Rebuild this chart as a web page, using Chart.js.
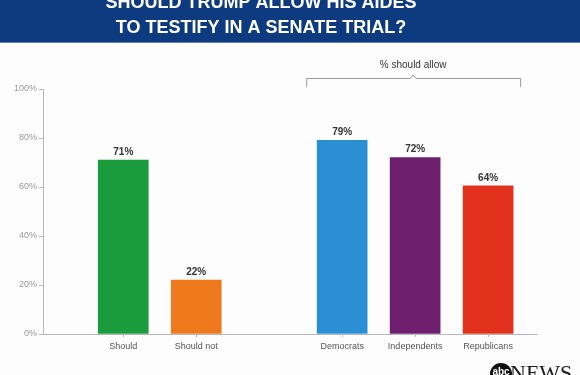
<!DOCTYPE html>
<html>
<head>
<meta charset="utf-8">
<script src="https://cdn.jsdelivr.net/npm/chart.js@4"></script>
<style>
  html, body { margin: 0; padding: 0; background: #fdfdfd; }
  #wrap { width: 580px; height: 375px; position: relative; }
</style>
</head>
<body>
<div id="wrap"><canvas id="chartAides"></canvas></div>
<script>
(function() {
  'use strict';

  // Datos
  const categories = ['Should', 'Should not', 'Democrats', 'Independents', 'Republicans'];
  const slots = [0, 1, 3, 4, 5]; // hueco entre los dos grupos
  const values = [71, 22, 79, 72, 60.5]; // altura de barra
  const valueLabels = ['71%', '22%', '79%', '72%', '64%'];
  const colors = ['#1a9b3c', '#ef7a1e', '#2b8fd6', '#6e1f6e', '#e2321e'];
  const yTicks = [0, 20, 40, 60, 80, 100];
  const titleLines = ['SHOULD TRUMP ALLOW HIS AIDES', 'TO TESTIFY IN A SENATE TRIAL?'];
  const bracketLabel = '% should allow';

  const axisColor = '#b8b8b8';

  // Cabecera, corchete, etiquetas y logo
  const decor = {
    id: 'decor',
    beforeDraw(chart) {
      const ctx = chart.ctx;
      ctx.save();
      ctx.fillStyle = '#fdfdfd';
      ctx.fillRect(0, 0, chart.width, chart.height);
      ctx.fillStyle = '#0e3b7f';
      ctx.fillRect(0, 0, chart.width, 42);
      ctx.fillStyle = '#5d7fb5';
      ctx.fillRect(0, 42, chart.width, 1);
      ctx.fillStyle = '#ffffff';
      ctx.font = 'bold 18px "Liberation Sans", Arial, sans-serif';
      ctx.textAlign = 'center';
      ctx.textBaseline = 'alphabetic';
      ctx.fillText(titleLines[0], 261, 8);
      ctx.fillText(titleLines[1], 261, 33);
      ctx.restore();
    },
    afterDatasetsDraw(chart) {
      const ctx = chart.ctx;
      const meta = chart.getDatasetMeta(0);
      ctx.save();
      // valores sobre las barras
      ctx.fillStyle = '#333333';
      ctx.font = 'bold 10px "Liberation Sans", Arial, sans-serif';
      ctx.textAlign = 'center';
      ctx.textBaseline = 'bottom';
      meta.data.forEach((bar, i) => {
        ctx.fillText(valueLabels[i], bar.x, bar.y - 3);
      });

      // corchete "% should allow"
      const x = chart.scales.x;
      const left = x.getPixelForValue(slots[2]) - 36;
      const right = x.getPixelForValue(slots[4]) + 32;
      const mid = (left + right) / 2;
      const top = chart.chartArea.top - 11;
      ctx.strokeStyle = '#9a9a9a';
      ctx.lineWidth = 1;
      ctx.beginPath();
      ctx.moveTo(left + 0.5, top + 9);
      ctx.lineTo(left + 0.5, top + 0.5);
      ctx.lineTo(mid - 3, top + 0.5);
      ctx.lineTo(mid, top - 3);
      ctx.lineTo(mid + 3, top + 0.5);
      ctx.lineTo(right + 0.5, top + 0.5);
      ctx.lineTo(right + 0.5, top + 9);
      ctx.stroke();
      ctx.fillStyle = '#333333';
      ctx.font = '10px "Liberation Sans", Arial, sans-serif';
      ctx.textBaseline = 'alphabetic';
      ctx.fillText(bracketLabel, mid, top - 10);

      // logo
      ctx.fillStyle = '#111111';
      ctx.beginPath();
      ctx.arc(501, 374, 11, 0, Math.PI * 2);
      ctx.fill();
      ctx.fillStyle = '#ffffff';
      ctx.font = 'bold 10px "Liberation Sans", Arial, sans-serif';
      ctx.textAlign = 'center';
      ctx.fillText('abc', 501, 375);
      ctx.fillStyle = '#1a1a1a';
      ctx.font = '22px "Liberation Serif", serif';
      ctx.textAlign = 'left';
      ctx.fillText('NEWS', 510, 380);
      ctx.restore();
    }
  };

  const ctx = document.getElementById('chartAides').getContext('2d');
  new Chart(ctx, {
    type: 'bar',
    data: {
      datasets: [{
        data: slots.map((s, i) => ({ x: s, y: values[i] })),
        backgroundColor: colors,
        borderWidth: 0,
        barThickness: 50
      }]
    },
    options: {
      responsive: true,
      maintainAspectRatio: false,
      animation: false,
      layout: { padding: { top: 89, right: 43, bottom: 20, left: 0 } },
      plugins: {
        legend: { display: false },
        tooltip: { enabled: false }
      },
      scales: {
        x: {
          type: 'linear',
          offset: false,
          min: -1.1,
          max: 5.67,
          afterBuildTicks(scale) {
            scale.ticks = slots.map(v => ({ value: v }));
          },
          afterFit(scale) { scale.height = 21; },
          grid: { offset: false, drawOnChartArea: false, drawTicks: true, tickLength: 3, color: axisColor },
          border: { color: axisColor },
          ticks: {
            autoSkip: false,
            maxRotation: 0,
            padding: 4,
            color: '#555555',
            font: { family: '"Liberation Sans", Arial, sans-serif', size: 9 },
            callback: (v, i) => categories[i]
          }
        },
        y: {
          min: 0,
          max: 100,
          afterBuildTicks(scale) {
            scale.ticks = yTicks.map(v => ({ value: v }));
          },
          afterFit(scale) { scale.width = 43; },
          grid: { drawOnChartArea: false, drawTicks: true, tickLength: 4, color: axisColor },
          border: { color: axisColor },
          ticks: {
            padding: 2,
            color: '#999999',
            font: { family: '"Liberation Sans", Arial, sans-serif', size: 9 },
            callback: v => v + '%'
          }
        }
      }
    },
    plugins: [decor]
  });
})();
</script>
</body>
</html>
